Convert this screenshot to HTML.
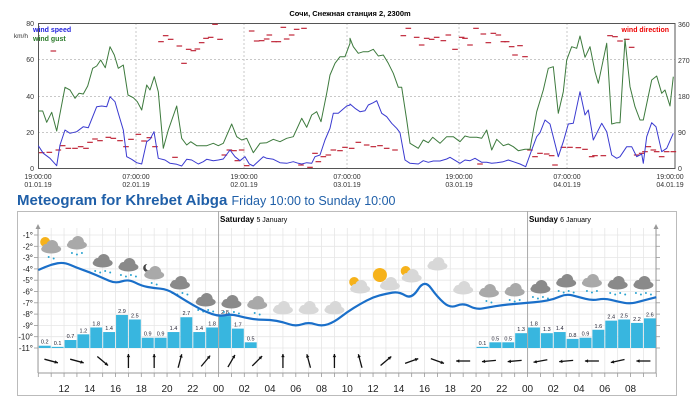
<!DOCTYPE html>
<html><head><meta charset="utf-8"><style>
html,body{margin:0;padding:0;background:#fff;width:700px;height:400px;overflow:hidden}
svg{display:block}
text{font-family:"Liberation Sans",Arial,sans-serif}
</style></head><body>
<svg id="s" width="700" height="400" xmlns="http://www.w3.org/2000/svg">
<!-- TOP CHART -->
<g id="topgrid" stroke="#c8c8c8" stroke-dasharray="2,2" stroke-width="1">
<line x1="38" y1="59.5" x2="675" y2="59.5"/><line x1="38" y1="96.5" x2="675" y2="96.5"/><line x1="38" y1="132.5" x2="675" y2="132.5"/>
<line x1="136" y1="23" x2="136" y2="168"/><line x1="244" y1="23" x2="244" y2="168"/><line x1="347" y1="23" x2="347" y2="168"/><line x1="459" y1="23" x2="459" y2="168"/><line x1="567" y1="23" x2="567" y2="168"/>
</g>
<rect x="38.5" y="23.5" width="636.5" height="145" fill="none" stroke="#555" stroke-width="1"/>
<text x="350" y="16" font-size="7.5" font-weight="bold" text-anchor="middle">Сочи, Снежная станция 2, 2300m</text>
<g font-size="7" fill="#333" text-anchor="end">
<text x="34" y="26">80</text><text x="34" y="62">60</text><text x="34" y="99">40</text><text x="34" y="135">20</text><text x="34" y="171">0</text>
<text x="28" y="38" font-size="6.5">km/h</text>
</g>
<g font-size="7" fill="#333">
<text x="678" y="27">360</text><text x="678" y="63">270</text><text x="678" y="99">180</text><text x="678" y="135">90</text><text x="678" y="171">0</text>
</g>
<text x="33" y="32" font-size="7" font-weight="bold" fill="#2222dd">wind speed</text>
<text x="33" y="41" font-size="7" font-weight="bold" fill="#2a7a2a">wind gust</text>
<text x="669" y="32" font-size="7" font-weight="bold" fill="#e00" text-anchor="end">wind direction</text>
<g font-size="7" fill="#333" text-anchor="middle">
<text x="38" y="179">19:00:00</text><text x="38" y="187">01.01.19</text>
<text x="136" y="179">07:00:00</text><text x="136" y="187">02.01.19</text>
<text x="244" y="179">19:00:00</text><text x="244" y="187">02.01.19</text>
<text x="347" y="179">07:00:00</text><text x="347" y="187">03.01.19</text>
<text x="459" y="179">19:00:00</text><text x="459" y="187">03.01.19</text>
<text x="567" y="179">07:00:00</text><text x="567" y="187">04.01.19</text>
<text x="670" y="179">19:00:00</text><text x="670" y="187">04.01.19</text>
</g>
<g id="dirs" stroke="#c0283a" stroke-width="4"></g>
<g id="series" fill="none" stroke-width="3" stroke-linejoin="round"></g>

<!-- BOTTOM -->
<text x="17" y="205" font-size="15" font-weight="bold" fill="#1f5fa8">Meteogram for Khrebet Aibga <tspan font-size="12.5" font-weight="normal">Friday 10:00 to Sunday 10:00</tspan></text>
<rect x="17.5" y="211.5" width="659" height="184" fill="#fff" stroke="#bbb"/>
<g id="bgrid"></g>
<g id="bars"></g>
<g id="icons"></g>
<g id="arrows" stroke="#111" stroke-width="1.3" fill="#111"></g>
<text x="220" y="222" font-size="8" font-weight="bold">Saturday <tspan font-weight="normal" font-size="7">5 January</tspan></text>
<text x="529" y="222" font-size="8" font-weight="bold">Sunday <tspan font-weight="normal" font-size="7">6 January</tspan></text>
<path id="temp" fill="none" stroke="#1a6fc9" stroke-width="2.2"/>
</svg>
<script>
var NS="http://www.w3.org/2000/svg";
function el(p,t,a,txt){var e=document.createElementNS(NS,t);for(var k in a)e.setAttribute(k,a[k]);if(txt!==undefined)e.textContent=txt;document.getElementById(p).appendChild(e);return e;}
function pts(a,dx){var s="";for(var i=0;i<a.length;i+=2)s+=(dx+a[i]/3).toFixed(1)+","+(a[i+1]/3).toFixed(1)+" ";return s;}
var g1=[115,333,128,333,140,367,155,337,170,393,195,262,210,270,225,295,237,280,250,282,263,258,278,205,290,198,302,180,316,203,330,140,343,165,355,205,370,195,384,285,400,293,412,305,425,330,440,255,450,270,463,230,475,275,490,445,505,390,530,318,545,415,560,435,572,425,590,437,620,437,640,430,655,437,670,430,695,372,710,410,725,420,740,415,760,458,780,430,800,428,820,418,840,425,860,415,880,410,905,355,920,382,935,345,950,335,963,365,980,280,990,225,1005,190,1020,170,1035,170,1050,130];
var g2=[0,115,10,140,25,160,40,155,55,155,70,148,85,168,100,165,115,190,130,220,145,262,155,262,170,360,180,430,205,445,220,420,235,428,248,412,270,430,290,410,310,410,330,425,345,408,360,412,380,412,395,415,410,390,425,450,440,418,460,437,475,432,490,440,505,452,525,448,540,448,560,335,580,270,595,205,610,200,625,340,640,275,650,180,665,140,680,145,690,108,705,172,720,140,735,215,745,250,770,130,785,372,800,368,810,368,825,118,840,260,855,320,870,360,880,360,905,240,920,228,935,280,945,270,960,318,970,230];
var b1=[115,437,130,460,150,475,170,497,180,435,195,390,210,400,230,395,250,380,265,383,278,350,290,320,305,318,320,320,330,290,345,305,355,340,370,390,380,470,395,478,410,488,425,492,440,425,450,418,462,395,475,475,495,480,510,490,530,493,545,498,560,478,575,480,595,492,610,485,620,478,640,482,655,480,670,477,690,450,705,470,720,482,735,470,748,492,760,498,790,470,800,475,820,478,840,488,860,490,880,485,895,490,905,492,920,488,935,490,945,470,960,465,975,420,990,385,1000,340,1015,340,1040,318,1050,315];
var b2=[0,312,15,325,30,335,45,332,55,315,70,308,80,302,95,340,110,350,125,370,140,385,150,398,165,480,180,490,205,492,220,482,235,487,250,483,270,483,290,477,300,472,310,478,330,490,345,480,360,482,375,475,395,487,410,487,425,490,440,488,460,485,475,480,490,485,510,492,527,500,545,450,560,410,570,398,585,360,600,372,625,470,640,425,655,372,670,370,690,275,705,345,715,330,730,420,740,400,755,370,770,395,785,465,800,475,810,470,830,440,845,440,860,470,875,462,880,490,890,410,905,368,918,380,935,455,950,445,970,400];
el("series","polyline",{points:pts(g1,0)+pts(g2,350),stroke:"#3d7a3d","stroke-width":1});
el("series","polyline",{points:pts(b1,0)+pts(b2,350),stroke:"#3a3ad0","stroke-width":1});
var d1=[125,458,148,457,160,153,175,450,188,437,205,445,225,445,242,440,258,445,270,427,285,417,300,422,325,412,340,415,360,422,378,440,393,418,415,403,432,423,448,413,465,440,483,125,497,107,512,118,525,472,538,138,552,190,566,148,580,152,592,147,605,128,618,115,632,112,645,73,660,118,673,465,688,450,702,452,712,482,725,450,740,497,755,93,770,123,785,122,800,117,808,105,822,125,835,125,850,82,860,117,875,105,890,88,912,85,903,495,930,502,945,460,955,485,970,470,985,465,1000,450,1020,452,1035,442];
var d2=[5,445,25,427,50,435,70,440,90,437,110,445,135,450,160,107,175,85,200,112,215,135,230,115,245,118,260,112,280,122,295,105,315,148,335,112,345,115,360,135,378,85,390,492,400,102,415,128,430,100,445,105,460,125,470,125,485,140,495,165,510,137,525,170,540,450,555,470,570,460,590,462,605,467,615,495,640,442,660,442,685,443,705,448,725,470,735,467,760,467,780,107,795,110,810,123,830,118,845,142,860,465,875,460,885,455,895,440,910,450,920,455,935,470,950,455,970,455];
function dd(a,dx){for(var i=0;i<a.length;i+=2){var x=dx+a[i]/3,y=a[i+1]/3;el("dirs","line",{x1:x-2.8,y1:y,x2:x+2.8,y2:y,"stroke-width":1.2});}}
dd(d1,0);dd(d2,350);
// bottom grid
var X0=38.3,H=12.875;function hx(h){return X0+h*H;}
function ty(t){return 235+(-1-t)*11.3;}
for(var h=0;h<=48;h++){el("bgrid","line",{x1:hx(h),y1:228,x2:hx(h),y2:373,stroke:"#e6e6e6","stroke-width":0.8});el("bgrid","line",{x1:hx(h),y1:373,x2:hx(h),y2:377,stroke:"#999","stroke-width":0.8});}
for(var t=-1;t>=-11;t--){var y=ty(t);el("bgrid","line",{x1:38,y1:y,x2:656,y2:y,stroke:"#e6e6e6","stroke-width":0.8});el("bgrid","line",{x1:34,y1:y,x2:38,y2:y,stroke:"#999","stroke-width":0.8});el("bgrid","line",{x1:656,y1:y,x2:660,y2:y,stroke:"#999","stroke-width":0.8});el("bgrid","text",{x:33,y:y+3,"font-size":8,"text-anchor":"end",fill:"#222"},t+"°");}
el("bgrid","line",{x1:hx(14),y1:211,x2:hx(14),y2:373,stroke:"#aaa","stroke-width":1});
el("bgrid","line",{x1:hx(38),y1:211,x2:hx(38),y2:373,stroke:"#aaa","stroke-width":1});
el("bgrid","line",{x1:38,y1:226,x2:38,y2:373,stroke:"#999","stroke-width":1});
el("bgrid","line",{x1:656,y1:226,x2:656,y2:373,stroke:"#999","stroke-width":1});
el("bgrid","path",{d:"M35.5,229 L38,224 L40.5,229Z M653.5,229 L656,224 L658.5,229Z",fill:"#999"});
el("bgrid","line",{x1:38,y1:373,x2:656,y2:373,stroke:"#999","stroke-width":1});
var hl=["12","14","16","18","20","22","00","02","04","06","08","10","12","14","16","18","20","22","00","02","04","06","08"];
for(var i=0;i<hl.length;i++)el("bgrid","text",{x:hx(2+2*i),y:392,"font-size":10,"text-anchor":"middle",fill:"#222"},hl[i]);
// bars
var p1=[0.2,0.1,0.7,1.2,1.8,1.4,2.9,2.5,0.9,0.9,1.4,2.7,1.4,1.8,2.8,1.7,0.5];
var p2=[0.1,0.5,0.5,1.3,1.8,1.3,1.4,0.8,0.9,1.6,2.4,2.5,2.2,2.6];
function bar(h,v){var x=hx(h),ht=v*11.4;el("bars","rect",{x:x+0.5,y:348-ht,width:H-1,height:ht,fill:"#38b6df"});el("bars","text",{x:x+H/2,y:346-ht,"font-size":5.5,"text-anchor":"middle",fill:"#223"},v.toFixed(1));}
p1.forEach(function(v,i){bar(i,v);});p2.forEach(function(v,i){bar(34+i,v);});
// temp
var T=[-4.1,-3.6,-3.4,-3.9,-4.3,-4.8,-5.3,-4.9,-5.5,-5.7,-5.8,-6.5,-7.2,-7.8,-8.2,-8.0,-8.3,-8.5,-8.5,-8.7,-9.1,-8.7,-9.1,-8.7,-7.8,-7.1,-6.5,-6.2,-6.0,-6.7,-4.9,-6.5,-7.5,-7.0,-7.6,-7.4,-7.2,-7.1,-7.0,-6.9,-6.7,-6.2,-6.5,-6.8,-6.6,-6.9,-7.1,-6.8,-6.5];
var d="";for(var i=0;i<T.length;i++){var x=hx(i),y=ty(T[i]);if(i==0)d="M"+x+","+y;else{var xp=hx(i-1),yp=ty(T[i-1]);d+=" Q"+xp+","+yp+" "+((xp+x)/2)+","+((yp+y)/2);}}
d+=" L"+hx(48)+","+ty(T[48]);
document.getElementById("temp").setAttribute("d",d);
// icons [hour,y,type] type: 0 light cloud,1 mid cloud,2 dark cloud; snow count; sun; moon
var ic=[[1,247,1,2,1],[3,243,1,3,0],[5,261,2,4,0],[7,265,2,4,0],[9,273,1,2,2],[11,283,2,4,0],[13,300,2,4,0],[15,302,2,4,0],[17,303,1,2,0],[19,308,0,0,0],[21,308,0,0,0],[23,308,0,0,0],[25,287,0,0,1],[27,280,-1,0,1],[29,276,0,0,1],[31,264,0,0,0],[33,288,0,0,0],[35,291,1,2,0],[37,290,1,3,0],[39,287,2,4,0],[41,281,2,4,0],[43,281,1,3,0],[45,283,2,4,0],[47,283,2,4,0]];
var cc=["#d8d8d8","#a9a9a9","#8a8a8a"];
ic.forEach(function(a){var x=hx(a[0]),y=a[1];
 if(a[4]==1){el("icons","circle",{cx:x-6,cy:y-5,r:a[2]<0?7:5,fill:"#f6b21b"});}
 if(a[4]==2){el("icons","circle",{cx:x-7,cy:y-5,r:4,fill:"#444"});el("icons","circle",{cx:x-5,cy:y-6,r:3.6,fill:"#fff"});}
 var c=a[2]<0?0:a[2];var col=cc[c];if(a[2]<0){x+=4;y+=4;}
 el("icons","ellipse",{cx:x,cy:y+2,rx:10,ry:4.5,fill:col});
 el("icons","circle",{cx:x+1,cy:y-1,r:6,fill:col});
 el("icons","circle",{cx:x-5,cy:y+1,r:4,fill:col});
 for(var k=0;k<a[3];k++){el("icons","circle",{cx:x-(a[3]-1)*2.5+k*5,cy:y+10+(k%2)*1.5,r:1,fill:"#2aa3d0"});}
});
// wind arrows
var ang=[15,15,40,-90,-90,-75,-50,-60,-45,-90,-105,-90,-105,-40,-20,20,180,175,175,170,175,180,168,180];
ang.forEach(function(a,i){var cx=hx(1+2*i),cy=361,r=a*Math.PI/180,L=7;var dx=Math.cos(r)*L,dy=Math.sin(r)*L;
 el("arrows","line",{x1:cx-dx,y1:cy-dy,x2:cx+dx,y2:cy+dy});
 var hx1=cx+dx,hy1=cy+dy,bx=cx+dx*0.55,by=cy+dy*0.55,px=-dy*0.25,py=dx*0.25;
 el("arrows","path",{d:"M"+hx1+","+hy1+" L"+(bx+px)+","+(by+py)+" L"+(bx-px)+","+(by-py)+"Z",stroke:"none"});
});
</script>
</body></html>
